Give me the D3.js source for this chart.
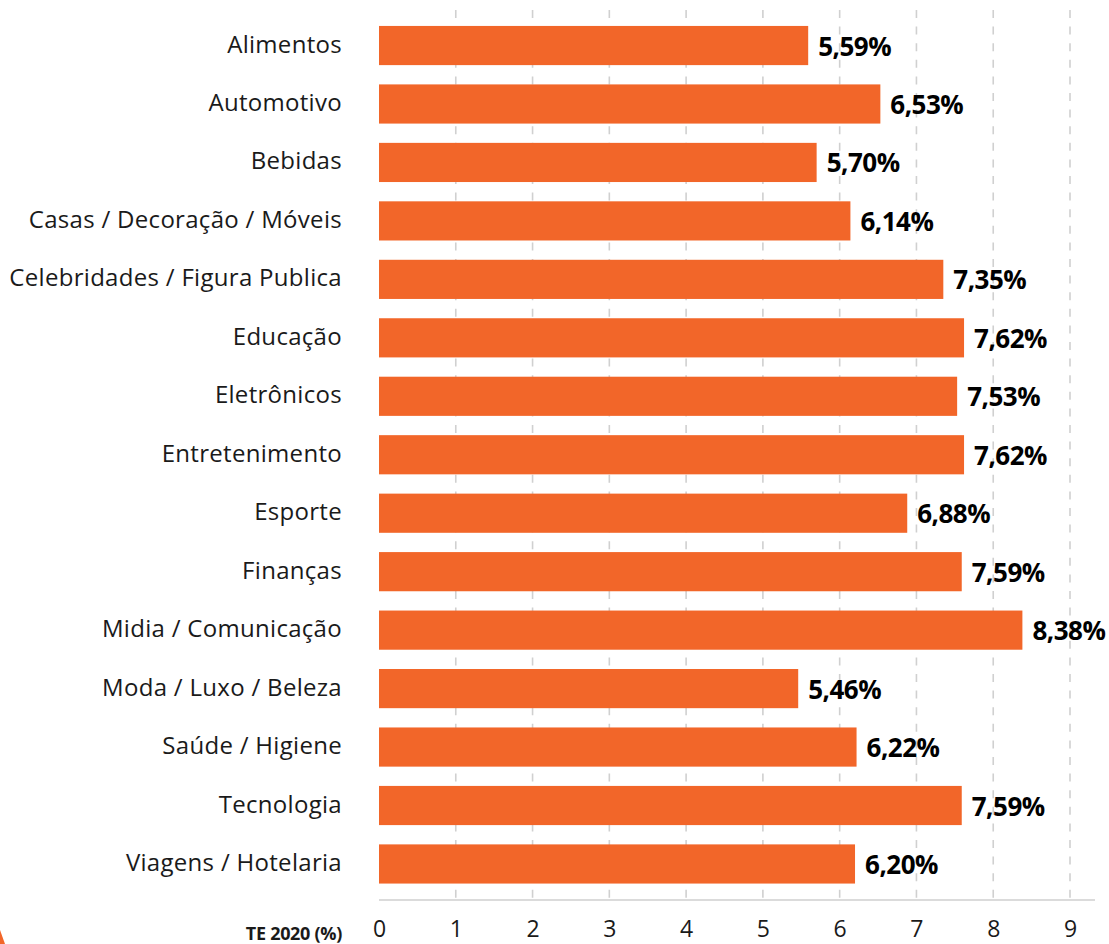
<!DOCTYPE html>
<html>
<head>
<meta charset="utf-8">
<script src="https://cdn.jsdelivr.net/npm/d3@7"></script>
<style>
  body { margin: 0; background: #fff; }
  svg { display: block; }
</style>
</head>
<body>
<div id="chart"></div>
<script>
var categories = ["Alimentos", "Automotivo", "Bebidas", "Casas / Decoração / Móveis", "Celebridades / Figura Publica",
  "Educação", "Eletrônicos", "Entretenimento", "Esporte", "Finanças", "Midia / Comunicação",
  "Moda / Luxo / Beleza", "Saúde / Higiene", "Tecnologia", "Viagens / Hotelaria"];
var values = [5.59, 6.53, 5.70, 6.14, 7.35, 7.62, 7.53, 7.62, 6.88, 7.59, 8.38, 5.46, 6.22, 7.59, 6.20];
var xTicks = [0, 1, 2, 3, 4, 5, 6, 7, 8, 9];
var axisTitle = "TE 2020 (%)";

var width = 1109;
var height = 944;
var barColor = "#f26629";
var font = "'Open Sans', sans-serif";

var xScale = d3.scaleLinear().domain([0, 9]).range([379, 1070]);
var yScale = d3.scaleBand().domain(categories).range([16.3, 893.2]).paddingInner(0.33).paddingOuter(0.165);
var axisY = 900;

var svg = d3.select("#chart")
  .append("svg")
  .attr("width", width)
  .attr("height", height);

// dashed gridlines (skip 0)
svg.selectAll(".grid").data(xTicks.slice(1)).enter().append("line")
  .attr("class", "grid")
  .attr("x1", function(d) { return xScale(d); })
  .attr("x2", function(d) { return xScale(d); })
  .attr("y1", 10)
  .attr("y2", axisY)
  .attr("stroke", "#d0d0d0")
  .attr("stroke-width", 1.6)
  .attr("stroke-dasharray", "8,8.6");

// bars
svg.selectAll(".bar").data(values).enter().append("rect")
  .attr("class", "bar")
  .attr("x", xScale(0))
  .attr("y", function(d, i) { return yScale(categories[i]); })
  .attr("width", function(d) { return xScale(d) - xScale(0); })
  .attr("height", yScale.bandwidth())
  .attr("fill", barColor);

// value labels
svg.selectAll(".val").data(values).enter().append("text")
  .attr("class", "val")
  .attr("x", function(d) { return xScale(d) + 10; })
  .attr("y", function(d, i) { return yScale(categories[i]) + yScale.bandwidth() / 2 + 10; })
  .attr("font-family", font)
  .attr("font-weight", "bold")
  .attr("font-size", 26)
  .attr("letter-spacing", -0.5)
  .attr("fill", "#000")
  .text(function(d) { return d.toFixed(2).replace(".", ",") + "%"; });

// category labels
svg.selectAll(".cat").data(categories).enter().append("text")
  .attr("class", "cat")
  .attr("x", 342)
  .attr("y", function(d) { return yScale(d) + yScale.bandwidth() / 2 + 7; })
  .attr("text-anchor", "end")
  .attr("font-family", font)
  .attr("font-size", 24)
  .attr("letter-spacing", 0.3)
  .attr("fill", "#1a1a1a")
  .text(function(d) { return d; });

// x axis
var xAxis = svg.append("g")
  .attr("transform", "translate(0," + axisY + ")")
  .call(d3.axisBottom(xScale).tickValues(xTicks).tickSize(0).tickPadding(21));
xAxis.select(".domain").attr("stroke", "#cfcfcf").attr("stroke-width", 1.6)
  .attr("d", "M" + xScale(0) + ",0H1095");
xAxis.selectAll("text")
  .attr("font-family", font)
  .attr("font-size", 23)
  .attr("fill", "#1a1a1a");

svg.append("text")
  .attr("x", 342)
  .attr("y", 940)
  .attr("text-anchor", "end")
  .attr("font-family", font)
  .attr("font-weight", "bold")
  .attr("font-size", 18)
  .attr("letter-spacing", -0.3)
  .attr("fill", "#1a1a1a")
  .text(axisTitle);

// decorative corner shape
svg.append("path")
  .attr("d", "M0,930 L5,944 L0,944 Z")
  .attr("fill", barColor);
</script>
</body>
</html>
